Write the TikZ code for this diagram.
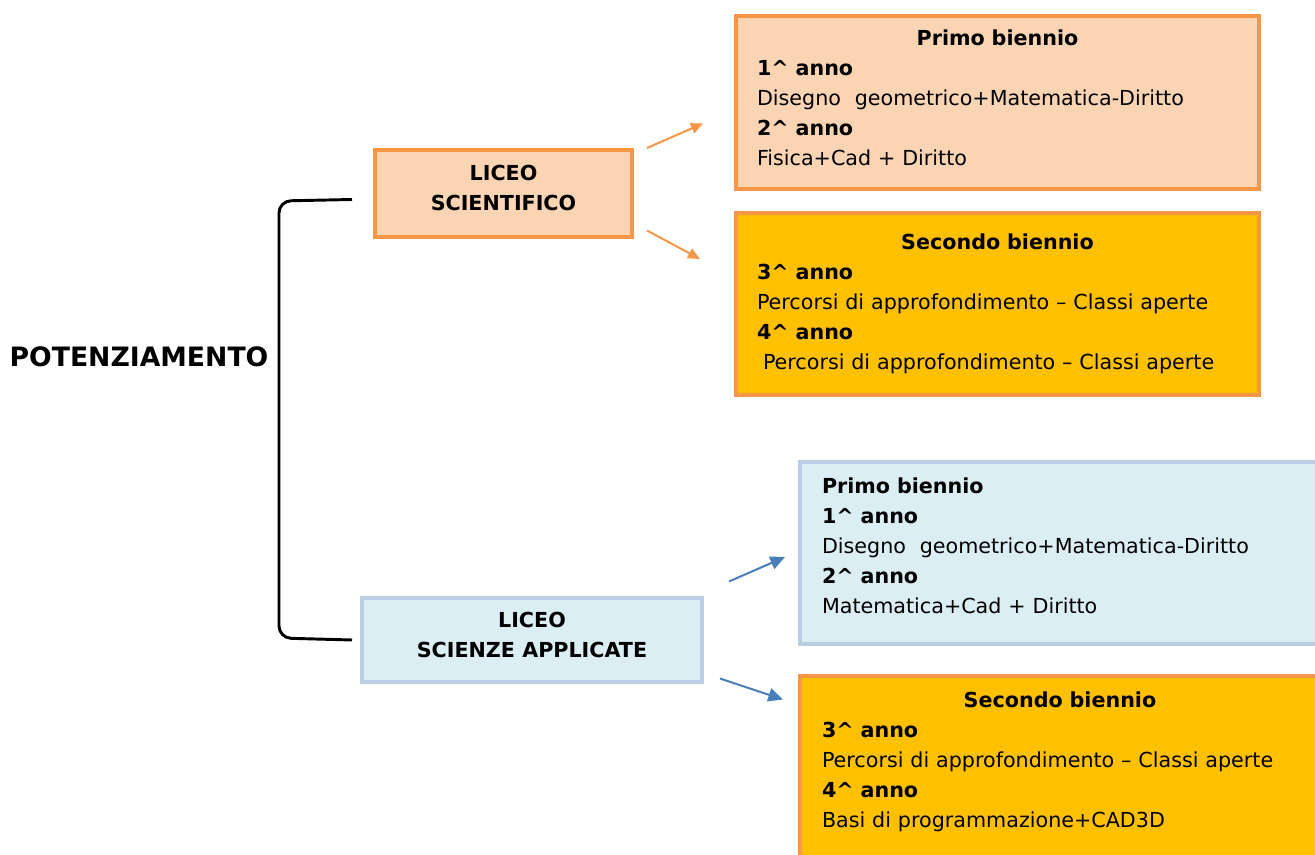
\documentclass[tikz,border=0pt]{standalone}
\usepackage{fontspec}
\setmainfont{DejaVu Sans}
\usetikzlibrary{arrows.meta}
\definecolor{peach}{HTML}{FBD4B4}
\definecolor{orangeline}{HTML}{F79646}
\definecolor{gold}{HTML}{FFC000}
\definecolor{paleblue}{HTML}{DBEEF4}
\definecolor{blueline}{HTML}{B9CDE5}
\definecolor{arrowblue}{HTML}{4A7EBB}
\newcommand{\anno}[1]{\textbf{#1\textasciicircum{} anno}}
\newcommand{\titolo}[1]{\makebox[\linewidth]{\textbf{#1}}}
\newcommand{\giu}[1]{\rule[-#1]{0pt}{0pt}}
\tikzset{
  liceo/.style={font=\fontsize{15.5}{22.5}\selectfont\bfseries, line width=3pt, align=center, inner sep=0pt},
  plan/.style={font=\fontsize{15.5}{22.5}\selectfont, line width=3pt, align=left, inner sep=0pt, minimum height=182*0.75pt},
  orangearrow/.style={draw=orangeline, line width=1.5pt, -{Triangle[length=9pt,width=8pt]}},
  bluearrow/.style={draw=arrowblue, line width=1.5pt, -{Triangle[length=11pt,width=10pt]}}
}
\begin{document}
\begin{tikzpicture}[x=0.75pt,y=-0.75pt]
\clip (0,0) rectangle (1315,855);
\node[font=\fontsize{20}{24}\selectfont\bfseries] (pot) at (139,357) {POTENZIAMENTO};

% licei
\node[liceo, fill=peach, draw=orangeline, minimum width=257*0.75pt, minimum height=87*0.75pt] (sci) at (503.5,193.5) {LICEO\\SCIENTIFICO\giu{9pt}};
\node[liceo, fill=paleblue, draw=blueline, minimum width=340*0.75pt, minimum height=84*0.75pt] (appl) at (532,640) {LICEO\\SCIENZE APPLICATE\giu{8.5pt}};

% liceo scientifico
\node[plan, fill=peach, draw=orangeline, minimum width=523*0.75pt, minimum height=173*0.75pt, text width=481*0.75pt] (sci1) at (997.5,102.5) {\titolo{Primo biennio}\\
\anno{1}\\
Disegno~ geometrico+Matematica-Diritto\\
\anno{2}\\
Fisica+Cad + Diritto\giu{7pt}};
\node[plan, fill=gold, draw=orangeline, minimum width=523*0.75pt, text width=481*0.75pt] (sci2) at (997.5,304) {\titolo{Secondo biennio}\\
\anno{3}\\
Percorsi di approfondimento -- Classi aperte\\
\anno{4}\\
\hspace*{4.5pt}Percorsi di approfondimento -- Classi aperte};

% liceo scienze applicate
\node[plan, fill=paleblue, draw=blueline, minimum width=520*0.75pt, text width=476*0.75pt] (appl1) at (1060,553) {\textbf{Primo biennio}\\
\anno{1}\\
Disegno~ geometrico+Matematica-Diritto\\
\anno{2}\\
Matematica+Cad + Diritto\giu{11pt}};
\node[plan, fill=gold, draw=orangeline, minimum width=520*0.75pt, text width=476*0.75pt] (appl2) at (1060,767) {\titolo{Secondo biennio}\\
\anno{3}\\
Percorsi di approfondimento -- Classi aperte\\
\anno{4}\\
Basi di programmazione+CAD3D\giu{11pt}};

% parentesi
\coordinate (bt) at ([xshift=-21*0.75pt, yshift=-6*0.75pt]sci.west);
\coordinate (bb) at ([xshift=-8*0.75pt]appl.west);
\draw[line width=2.2pt, rounded corners=9pt] (bt) -- (279,201) -- (279,638) -- (bb);

% frecce
\coordinate (s1) at ([xshift=13*0.75pt]sci.north east);
\coordinate (s2) at ([xshift=13*0.75pt, yshift=8.5*0.75pt]sci.south east);
\coordinate (e1) at ([xshift=-31*0.75pt, yshift=-21*0.75pt]sci1.west);
\coordinate (e2) at ([xshift=-34*0.75pt, yshift=-48*0.75pt]sci2.north west);
\draw[orangearrow] (s1) -- (e1);
\draw[orangearrow] (s2) -- (e2);
\coordinate (a1) at ([xshift=25*0.75pt, yshift=14.5*0.75pt]appl.north east);
\coordinate (a2) at ([xshift=16*0.75pt, yshift=5.5*0.75pt]appl.south east);
\coordinate (f1) at ([xshift=-13*0.75pt, yshift=-4*0.75pt]appl1.west);
\coordinate (f2) at ([xshift=-15*0.75pt, yshift=-25.5*0.75pt]appl2.north west);
\draw[bluearrow] (a1) -- (f1);
\draw[bluearrow] (a2) -- (f2);
\end{tikzpicture}
\end{document}
